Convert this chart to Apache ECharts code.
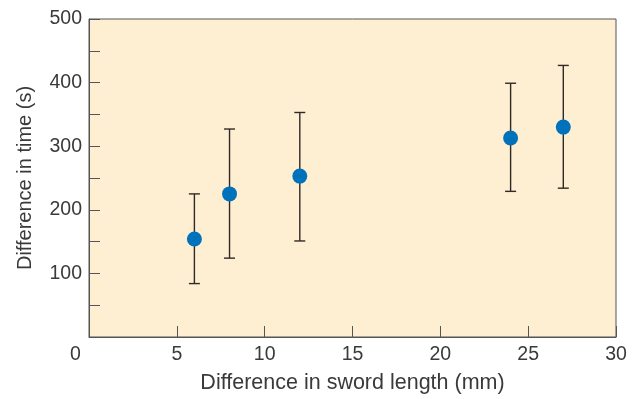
<!DOCTYPE html>
<html>
<head>
<meta charset="utf-8">
<script src="https://cdn.jsdelivr.net/npm/echarts@6/dist/echarts.min.js"></script>
<style>html,body{margin:0;padding:0;background:#fff}#c{width:637px;height:399px}</style>
</head>
<body>
<div id="c"></div>
<script>
const swordDiff = [6, 8, 12, 24, 27];
const timeDiff = [154, 225, 253, 313, 330];
const errLow = [84, 124, 151, 229, 234];
const errHigh = [225, 327, 353, 399, 427];
const xTitle = 'Difference in sword length (mm)';
const yTitle = 'Difference in time (s)';

const chart = echarts.init(document.getElementById('c'));
const font = 'Liberation Sans, Arial, sans-serif';
const txt = '#3a3a3a';
const errData = swordDiff.map((x, i) => [x, errLow[i], errHigh[i]]);
const ptData = swordDiff.map((x, i) => [x, timeDiff[i]]);

chart.setOption({
  animation: false,
  grid: {left: 89, right: 21, top: 19, bottom: 62, outerBoundsMode: 'none', containLabel: false,
    show: true, backgroundColor: '#feeed2', borderColor: '#555', borderWidth: 1},
  xAxis: {
    type: 'value', min: 0, max: 30, interval: 5,
    name: xTitle, nameLocation: 'middle', nameGap: 35,
    nameTextStyle: {fontFamily: font, fontSize: 21.5, color: txt},
    axisLine: {lineStyle: {color: '#555', width: 1}},
    axisTick: {inside: true, length: 11, lineStyle: {color: '#555'}},
    splitLine: {show: false},
    axisLabel: {fontFamily: font, fontSize: 19.5, color: txt, margin: 8,
      formatter: v => v === 0 ? '{z|0}' : String(v),
      rich: {z: {fontFamily: font, fontSize: 19.5, color: txt, padding: [0, 27, 0, 0]}}}
  },
  yAxis: {
    type: 'value', min: 0, max: 500, interval: 50,
    name: yTitle, nameLocation: 'middle', nameGap: 54,
    nameTextStyle: {fontFamily: font, fontSize: 20, color: txt},
    axisLine: {lineStyle: {color: '#555', width: 1}},
    axisTick: {inside: true, length: 11, lineStyle: {color: '#555'}},
    splitLine: {show: false},
    axisLabel: {fontFamily: font, fontSize: 19.5, color: txt, margin: 7,
      formatter: v => (v % 100 === 0 && v !== 0) ? String(v) : ''}
  },
  series: [
    {
      type: 'custom',
      data: errData,
      z: 2,
      renderItem: function (params, api) {
        const x = api.value(0);
        const lo = api.coord([x, api.value(1)]);
        const hi = api.coord([x, api.value(2)]);
        const w = 5.5;
        const style = {stroke: '#2f2a26', lineWidth: 1.4};
        return {type: 'group', children: [
          {type: 'line', shape: {x1: lo[0], y1: lo[1], x2: hi[0], y2: hi[1]}, style},
          {type: 'line', shape: {x1: lo[0] - w, y1: lo[1], x2: lo[0] + w, y2: lo[1]}, style},
          {type: 'line', shape: {x1: hi[0] - w, y1: hi[1], x2: hi[0] + w, y2: hi[1]}, style}
        ]};
      }
    },
    {
      type: 'scatter',
      data: ptData,
      z: 3,
      symbolSize: 15,
      itemStyle: {color: '#0072bc', opacity: 1}
    }
  ]
});
</script>
</body>
</html>
